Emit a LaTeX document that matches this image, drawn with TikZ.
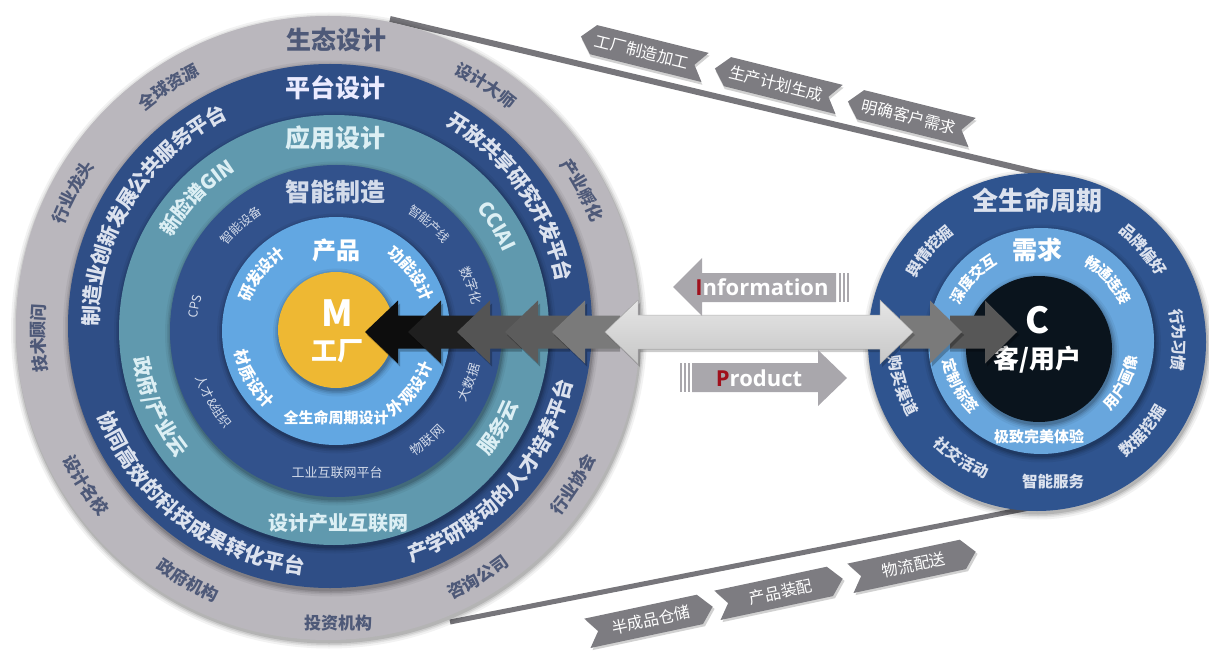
\documentclass[tikz,border=0pt]{standalone}
\usepackage{fontspec}
\setmainfont{Open Sans}
\newfontfamily\cjk{Noto Sans CJK SC}
\usetikzlibrary{decorations.text}
\definecolor{grayring}{HTML}{BAB7BD}
\definecolor{grtxt}{HTML}{4E5978}
\definecolor{dblue}{HTML}{2F4E86}
\definecolor{tealring}{HTML}{6099AE}
\definecolor{idblue}{HTML}{32528C}
\definecolor{lblue}{HTML}{62A7E2}
\definecolor{myyellow}{HTML}{EEB833}
\definecolor{rblue}{HTML}{2F548F}
\definecolor{rlblue}{HTML}{68A6DD}
\definecolor{cblack}{HTML}{0A141D}
\definecolor{ringtxt}{HTML}{DCE2EE}
\definecolor{tealtxt}{HTML}{DCEFF4}
\definecolor{itxt}{HTML}{D3DBEA}
\definecolor{linec}{HTML}{77767B}
\definecolor{tagc}{HTML}{7D7C81}
\definecolor{arrowlight}{HTML}{D6D3D9}
\definecolor{infoc}{HTML}{A9A7AC}
\definecolor{redI}{HTML}{A0101C}
\newcommand\fs[1]{\fontsize{#1}{#1}\selectfont}
% clockwise text (top outward)
\newcommand\cwT[7]{%
  \pgfmathsetmacro\aA{#3+80}\pgfmathsetmacro\aB{#3-80}%
  \path[decorate,decoration={text along path,text align=center,raise={-0.36*#5pt},
    text={|#4\fs{#5}\color{#6}|#7}}]
    ([shift={(#1)}]\aA:#2) arc[start angle=\aA,end angle=\aB,radius=#2];}
% counterclockwise text (top inward)
\newcommand\ccwT[7]{%
  \pgfmathsetmacro\aA{#3-80}\pgfmathsetmacro\aB{#3+80}%
  \path[decorate,decoration={text along path,text align=center,raise={-0.36*#5pt},
    text={|#4\fs{#5}\color{#6}|#7}}]
    ([shift={(#1)}]\aA:#2) arc[start angle=\aA,end angle=\aB,radius=#2];}
\newcommand\sdisc[2]{%
  \foreach \k/\o in {6/0.05,4/0.07,2.5/0.09,1/0.12}{%
    \fill[black,opacity=\o] ([shift={(1,-2.5)}]#1) circle[radius=#2+\k];}}
\newcommand\tagleft[4]{%
  \begin{scope}[shift={(#2)},rotate=#3]
    \fill[black,opacity=.18,shift={(1.5,-2.5)}] (-64,0) -- (-51,15) -- (64,15) -- (53,0) -- (64,-15) -- (-51,-15) -- cycle;
    \fill[tagc] (-64,0) -- (-51,15) -- (64,15) -- (53,0) -- (64,-15) -- (-51,-15) -- cycle;
    \node[tagtxt,transform shape] (#1) at (-1,0) {#4};
  \end{scope}}
\newcommand\tagright[4]{%
  \begin{scope}[shift={(#2)},rotate=#3]
    \fill[black,opacity=.18,shift={(1.5,-2.5)}] (-64,15) -- (51,15) -- (64,0) -- (51,-15) -- (-64,-15) -- (-53,0) -- cycle;
    \fill[tagc] (-64,15) -- (51,15) -- (64,0) -- (51,-15) -- (-64,-15) -- (-53,0) -- cycle;
    \node[tagtxt,transform shape] (#1) at (1,0) {#4};
  \end{scope}}
\newcommand\larrow[3]{%
  \fill[black,opacity=.25] (#1+2,-335) -- (#1+35,-303.5) -- (#1+35,-318.5) -- (#3,-318.5) -- (#3,-351.5) -- (#1+35,-351.5) -- (#1+35,-366.5) -- cycle;
  \fill[#2] (#1,-332) -- (#1+33,-300.5) -- (#1+33,-315.5) -- (#3,-315.5) -- (#3,-348.5) -- (#1+33,-348.5) -- (#1+33,-363.5) -- cycle;}
\newcommand\rarrow[3]{%
  \fill[black,opacity=.25] (#1+2,-335) -- (#1-30,-303.5) -- (#1-30,-318.5) -- (#3,-318.5) -- (#3,-351.5) -- (#1-30,-351.5) -- (#1-30,-366.5) -- cycle;
  \fill[#2] (#1,-332) -- (#1-32,-300.5) -- (#1-32,-315.5) -- (#3,-315.5) -- (#3,-348.5) -- (#1-32,-348.5) -- (#1-32,-363.5) -- cycle;}
\tikzset{
  tagtxt/.style={font=\cjk\fs{16}, text=white, inner sep=0pt},
  hlbl/.style={font=\cjk\bfseries, inner sep=0pt, anchor=center},
  conn/.style={line width=6pt, linec},
}
\begin{document}
\begin{tikzpicture}[x=1pt,y=1pt]
\useasboundingbox (0,0) rectangle (1209,-652);
\coordinate (G) at (328,-328);
\coordinate (D) at (330,-326);
\coordinate (T) at (334,-330);
\coordinate (I) at (336,-331);
\coordinate (Y) at (336,-330);
\coordinate (R) at (1037,-342);
\coordinate (RL) at (1041,-341);
\coordinate (RC) at (1039,-349);
% connecting lines
\coordinate (ua) at (390,-19); \coordinate (ub) at (1060,-178);
\coordinate (la) at (450,-622); \coordinate (lb) at (1060,-502);
\draw[conn] (ua) -- (ub);
\draw[conn, line width=5pt] (la) -- (lb);
% left circle
\sdisc{G}{312}
\fill[grayring] (G) circle[radius=312];
\sdisc{D}{262}
\fill[dblue] (D) circle[radius=262];
\sdisc{T}{215}
\fill[tealring] (T) circle[radius=215];
\sdisc{I}{166}
\fill[idblue] (I) circle[radius=166];
\sdisc{I}{114}
\fill[lblue] (I) circle[radius=114];
\sdisc{Y}{58}
\fill[myyellow] (Y) circle[radius=58];
% right circle
\sdisc{R}{169}
\fill[rblue] (R) circle[radius=169];
\sdisc{RL}{113}
\fill[rlblue] (RL) circle[radius=113];
\sdisc{RC}{73}
\fill[cblack] (RC) circle[radius=73];
% horizontal labels left
\node[hlbl, text=grtxt, font=\cjk\bfseries\fs{25}] (eco) at (336,-40) {生态设计};
\node[hlbl, text=white!92!blue, font=\cjk\bfseries\fs{25}] (plat) at (335,-88) {平台设计};
\node[hlbl, text=tealtxt, font=\cjk\bfseries\fs{25}] (app) at (335,-138) {应用设计};
\node[hlbl, text=itxt, font=\cjk\bfseries\fs{25}] (smart) at (335,-192) {智能制造};
\node[hlbl, text=white, font=\cjk\bfseries\fs{24}] (prod) at (336,-250) {产品};
\node[hlbl, text=white, font=\cjk\bfseries\fs{36}] (M) at (337,-313) {M};
\node[hlbl, text=white, font=\cjk\bfseries\fs{26}] (fac) at (337,-351) {工厂};
\node[hlbl, text=white, font=\cjk\bfseries\fs{15}] (lcd) at (336,-418) {全生命周期设计};
\node[hlbl, text=itxt, font=\cjk\fs{13}] (iip) at (337,-473) {工业互联网平台};
\node[hlbl, text=tealtxt, font=\cjk\bfseries\fs{20}] (dii) at (338,-523) {设计产业互联网};
\node[hlbl, text=grtxt, font=\cjk\bfseries\fs{17}] (inv) at (338,-623) {投资机构};
% gray ring
\cwT{G}{290}{123.5}{\cjk\bfseries}{17}{grtxt}{全球资源}
\cwT{G}{290}{152}{\cjk\bfseries}{17}{grtxt}{行业龙头}
\cwT{G}{290}{182}{\cjk\bfseries}{17}{grtxt}{技术顾问}
\ccwT{G}{290}{213}{\cjk\bfseries}{17}{grtxt}{设计名校}
\ccwT{G}{290}{241}{\cjk\bfseries}{17}{grtxt}{政府机构}
\ccwT{G}{292}{-59}{\cjk\bfseries}{17}{grtxt}{咨询公司}
\ccwT{G}{292}{-32.6}{\cjk\bfseries}{17}{grtxt}{行业协会}
\cwT{G}{290}{28.5}{\cjk\bfseries}{17}{grtxt}{产业孵化}
\cwT{G}{290}{57}{\cjk\bfseries}{17}{grtxt}{设计大师}
% dark blue ring
\cwT{D}{239}{148}{\cjk\bfseries}{20.5}{ringtxt}{制造业创新发展公共服务平台}
\cwT{D}{239}{35.5}{\cjk\bfseries}{20.5}{ringtxt}{开放共享研究开发平台}
\ccwT{D}{242}{-42}{\cjk\bfseries}{20.5}{ringtxt}{产学研联动的人才培养平台}
\ccwT{D}{242}{232.5}{\cjk\bfseries}{20.5}{ringtxt}{协同高效的科技成果转化平台}
% teal ring
\cwT{T}{194}{136}{\cjk\bfseries}{20}{tealtxt}{新脸谱GIN}
\cwT{T}{194}{32.5}{\cjk\bfseries}{20}{tealtxt}{CCIAI}
\ccwT{T}{192}{-30.6}{\cjk\bfseries}{20}{tealtxt}{服务云}
\ccwT{T}{195}{203.7}{\cjk\bfseries}{20}{tealtxt}{政府/产业云}
% inner dark ring
\cwT{I}{143}{132}{\cjk}{12.5}{itxt}{智能设备}
\cwT{I}{143}{170}{\cjk}{12.5}{itxt}{CPS}
\ccwT{I}{143}{210}{\cjk}{12.5}{itxt}{人才{\&}组织}
\ccwT{I}{143}{-50}{\cjk}{13}{itxt}{物联网}
\ccwT{I}{143}{-21}{\cjk}{13}{itxt}{大数据}
\cwT{I}{143}{18.6}{\cjk}{13}{itxt}{数字化}
\cwT{I}{143}{49}{\cjk}{12.5}{itxt}{智能产线}
% light blue ring
\cwT{I}{96}{142.5}{\cjk\bfseries}{16}{white}{研发设计}
\cwT{I}{97}{37.5}{\cjk\bfseries}{16}{white}{功能设计}
\ccwT{I}{98}{210}{\cjk\bfseries}{16}{white}{材质设计}
\ccwT{I}{97}{-38}{\cjk\bfseries}{16}{white}{外观设计}
% right circle labels
\node[hlbl, text=ringtxt, font=\cjk\bfseries\fs{26}] (life) at (1037,-200) {全生命周期};
\node[hlbl, text=white, font=\cjk\bfseries\fs{25}] (need) at (1037,-250) {需求};
\node[hlbl, text=white, font=\cjk\bfseries\fs{36}] (C) at (1037,-320) {C};
\node[hlbl, text=white, font=\cjk\bfseries\fs{26}] (user) at (1037,-360) {客/用户};
\node[hlbl, text=white, font=\cjk\bfseries\fs{15}] (exp) at (1039,-437) {极致完美体验};
\node[hlbl, text=ringtxt, font=\cjk\bfseries\fs{15.5}] (svc) at (1053,-482) {智能服务};
\cwT{R}{142}{139.7}{\cjk\bfseries}{15.5}{ringtxt}{舆情挖掘}
\cwT{R}{142}{41}{\cjk\bfseries}{15.5}{ringtxt}{品牌偏好}
\cwT{R}{142}{0.8}{\cjk\bfseries}{15.5}{ringtxt}{行为习惯}
\ccwT{R}{140}{-40}{\cjk\bfseries}{15.5}{ringtxt}{数据挖掘}
\ccwT{R}{140}{237}{\cjk\bfseries}{15.5}{ringtxt}{社交活动}
\ccwT{R}{143}{198}{\cjk\bfseries}{15.5}{ringtxt}{购买渠道}
\cwT{RL}{94}{137.6}{\cjk\bfseries}{15}{white}{深度交互}
\cwT{RL}{93}{42.3}{\cjk\bfseries}{15}{white}{畅通连接}
\ccwT{RL}{93}{-27.4}{\cjk\bfseries}{15}{white}{用户画像}
\ccwT{RL}{95}{209}{\cjk\bfseries}{15}{white}{定制标签}
% arrow chain into M
\larrow{365}{black!95}{430}
\larrow{408}{black!88}{475}
\larrow{457}{black!67}{522}
\larrow{505}{black!64}{570}
\larrow{552}{black!52}{620}
% arrow chain into C
\rarrow{1017}{black!66}{950}
\rarrow{962}{black!52}{900}
% main double arrow
\fill[black,opacity=.2] (607,-335) -- (640,-303) -- (640,-318) -- (882,-318) -- (882,-303) -- (915,-335) -- (882,-367) -- (882,-352) -- (640,-352) -- (640,-367) -- cycle;
\fill[top color=black!10, bottom color=black!22, draw=black!30, line width=0.5pt] (605,-332) -- (638,-300) -- (638,-315) -- (880,-315) -- (880,-300) -- (913,-332) -- (880,-364) -- (880,-349) -- (638,-349) -- (638,-364) -- cycle;
% information arrow
\fill[infoc] (673,-287) -- (702,-258) -- (702,-273) -- (836,-273) -- (836,-302) -- (702,-302) -- (702,-316) -- cycle;
\fill[infoc] (839,-273) rectangle (841,-302);
\fill[infoc] (843,-273) rectangle (845,-302);
\fill[infoc] (847,-273) rectangle (849,-302);
\node[inner sep=0pt, font=\bfseries\fs{22}, text=white] (info) at (762,-287) {\textcolor{redI}{I}nformation};
% product arrow
\fill[infoc] (680,-363) rectangle (682,-392);
\fill[infoc] (684,-363) rectangle (686,-392);
\fill[infoc] (688,-363) rectangle (690,-392);
\fill[infoc] (692,-363) -- (818,-363) -- (818,-350) -- (847,-378) -- (818,-406) -- (818,-392) -- (692,-392) -- cycle;
\node[inner sep=0pt, font=\bfseries\fs{22}, text=white] (product) at (759,-378) {\textcolor{redI}{P}roduct};
% tags
\tagleft{t1}{643,-52}{-14}{工厂制造加工}
\tagleft{t2}{777,-84}{-14}{生产计划生成}
\tagleft{t3}{910,-117}{-14}{明确客户需求}
\tagright{b1}{650,-620}{12}{半成品仓储}
\tagright{b2}{780,-592}{12}{产品装配}
\tagright{b3}{913,-565}{12}{物流配送}
\end{tikzpicture}
\end{document}
